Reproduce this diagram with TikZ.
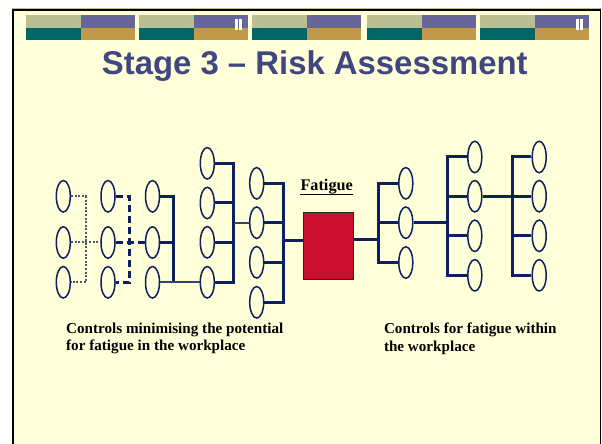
\documentclass[tikz,border=0pt]{standalone}
\usepackage{fontspec}
\setmainfont{Liberation Serif}
\newfontfamily\headfont{Liberation Sans}
\usetikzlibrary{shapes.geometric}

\definecolor{paper}{HTML}{FFFFD9}
\definecolor{khaki}{HTML}{BBBE90}
\definecolor{lilac}{HTML}{666699}
\definecolor{teal}{HTML}{006666}
\definecolor{gold}{HTML}{C09A4A}
\definecolor{navy}{HTML}{0C1F5E}
\definecolor{slateline}{HTML}{34446E}
\definecolor{dotgrey}{HTML}{4A5878}
\definecolor{headblue}{HTML}{3F4680}
\definecolor{crimson}{HTML}{CC0E30}

\tikzset{
  oval/.style={ellipse, draw=navy, line width=1.5bp, fill=paper,
               minimum width=14bp, minimum height=31.5bp, inner sep=0pt},
  busline/.style={draw=navy, line width=3bp},
  thinlink/.style={draw=slateline, line width=2bp},
  dotlink/.style={draw=dotgrey, line width=2bp, dash pattern=on 2bp off 1.6bp},
  dashlink/.style={draw=navy, line width=3bp, dash pattern=on 7bp off 4bp},
  caption/.style={anchor=north west, align=left, inner sep=0pt,
                  font=\bfseries\fontsize{15.2}{18}\selectfont},
}

\begin{document}
\begin{tikzpicture}[x=1bp,y=-1bp]
\useasboundingbox (0,0) rectangle (602,444);
\fill[white] (0,0) rectangle (602,444);

% slide frame
\draw[khaki, line width=1bp] (12,8.3) -- (601,8.3);
\fill[black] (12,9) rectangle (601,450);
\fill[paper] (14.2,11.2) rectangle (599.6,450);

% banner of coloured blocks
\foreach \bx in {26,139,252,366.5,480} {
  \fill[khaki] (\bx,15) rectangle (\bx+55,27.7);
  \fill[lilac] (\bx+55,15) rectangle (\bx+109,27.7);
  \fill[teal]  (\bx,27.7) rectangle (\bx+55,40);
  \fill[gold]  (\bx+55,27.7) rectangle (\bx+109,40);
}
\foreach \bx in {248,589} {
  \fill[white] (\bx-12.8,18.7) rectangle (\bx-10.1,29.7);
  \fill[white] (\bx-8.7,18.7) rectangle (\bx-6,29.7);
}

% heading
\node[anchor=base, inner sep=0pt, text=headblue,
      font=\headfont\bfseries\fontsize{33}{38}\selectfont] (title) at (314.8,75)
  {Stage 3 – Risk Assessment};

% ellipse columns, left side
\foreach \n/\y in {1/196.3,2/242.5,3/282.3} {
  \node[oval] (a\n) at (63.3,\y) {};
  \node[oval] (b\n) at (108,\y) {};
  \node[oval] (c\n) at (152.5,\y) {};
}
\foreach \n/\y in {1/163.3,2/203,3/242.3,4/282.3}
  \node[oval] (d\n) at (207.3,\y) {};
\foreach \n/\y in {1/183.3,2/222.7,3/262.3,4/302.3}
  \node[oval] (f\n) at (256.7,\y) {};

% hazard box
\node[draw=black!85, line width=1.2bp, fill=crimson, minimum width=50bp,
      minimum height=67bp, inner sep=0pt] (box) at (328.5,245.8) {};
\node[anchor=base, inner sep=0pt, font=\bfseries\fontsize{16.3}{18}\selectfont]
  (fat) at (326.7,190.7) {Fatigue};
\draw[line width=1.6bp] ([yshift=-4bp]fat.base west) -- ([yshift=-4bp]fat.base east);

% ellipse columns, right side
\foreach \n/\y in {1/183.3,2/222.7,3/262.5}
  \node[oval] (g\n) at (405.8,\y) {};
\foreach \n/\y in {1/157,2/196.2,3/235.8,4/275.3} {
  \node[oval] (h\n) at (474.8,\y) {};
  \node[oval] (k\n) at (539.2,\y) {};
}

% bus positions
\coordinate (ja) at (85.7,0);
\coordinate (jb) at (129.3,0);
\coordinate (jc) at (173.7,0);
\coordinate (jd) at (233.7,0);
\coordinate (jf) at (283.3,0);
\coordinate (jg) at (378.3,0);
\coordinate (jh) at (447.7,0);
\coordinate (jk) at (512.3,0);
\coordinate (inlevel) at (0,241);
\coordinate (outlevel) at (0,239.3);

% dotted group
\draw[dotlink] (a1.east) -- (a1.east -| ja) -- (a3.east -| ja) -- (a3.east);
\draw[dotlink] (a2.east) -- (b2.west);

% dashed group
\draw[dashlink] (b1.east) -- (b1.east -| jb) -- (b3.east -| jb) -- (b3.east);
\draw[dashlink] (b2.east) -- (c2.west);

% third column
\draw[busline] (c1.east) -- (c1.east -| jc) -- (c3.east -| jc);
\draw[busline] (c2.east) -- (c2.east -| jc);
\draw[thinlink] (c3.east) -- (d4.west);

% fourth column
\draw[busline] (d1.east) -- (d1.east -| jd) -- (d4.east -| jd) -- (d4.east);
\foreach \n in {2,3} \draw[busline] (d\n.east) -- (d\n.east -| jd);
\draw[thinlink] (f2.west -| jd) -- (f2.west);

% fifth column into the box
\draw[busline] (f1.east) -- (f1.east -| jf) -- (f4.east -| jf) -- (f4.east);
\foreach \n in {2,3} \draw[busline] (f\n.east) -- (f\n.east -| jf);
\draw[busline] (jf |- inlevel) -- (box.west |- inlevel);

% out of the box
\draw[busline] (box.east |- outlevel) -- (jg |- outlevel);
\draw[busline] (g1.west) -- (g1.west -| jg) -- (g3.west -| jg) -- (g3.west);
\draw[busline] (g2.west) -- (g2.west -| jg);
\draw[busline] (g2.east) -- (g2.east -| jh);
\draw[busline] (h1.west) -- (h1.west -| jh) -- (h4.west -| jh) -- (h4.west);
\foreach \n in {2,3} \draw[busline] (h\n.west) -- (h\n.west -| jh);
\draw[busline] (h2.east) -- (k2.west);
\draw[busline] (k1.west) -- (k1.west -| jk) -- (k4.west -| jk) -- (k4.west);
\draw[busline] (k3.west) -- (k3.west -| jk);

% captions
\node[caption] (leftcap) at (66,322.3)
  {Controls minimising the potential\\for fatigue in the workplace};
\node[caption] (rightcap) at (383.8,322.3)
  {Controls for fatigue within\\the workplace};
\end{tikzpicture}
\end{document}
